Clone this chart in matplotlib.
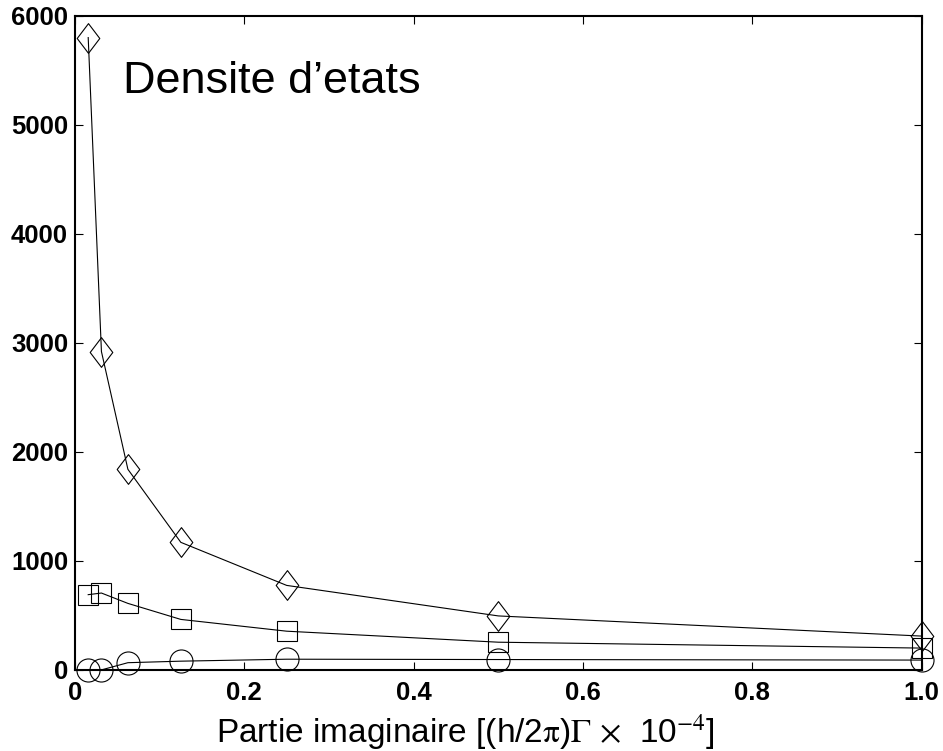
import matplotlib
matplotlib.use('Agg')
import matplotlib.pyplot as plt
from matplotlib.path import Path

plt.rcParams['font.family'] = ['Liberation Sans', 'DejaVu Sans']
plt.rcParams['mathtext.fontset'] = 'stix'

# Data
gamma = [0.015625, 0.03125, 0.0625, 0.125, 0.25, 0.5, 1.0]
dos_diamond = [5800, 2920, 1840, 1170, 775, 495, 310]
dos_square = [690, 705, 610, 463, 355, 254, 200]
dos_circle = [0, 0, 66, 80, 98, 95, 90]

x_ticks = [0, 0.2, 0.4, 0.6, 0.8, 1.0]
x_ticklabels = ['0', '0.2', '0.4', '0.6', '0.8', '1.0']
y_ticks = [0, 1000, 2000, 3000, 4000, 5000, 6000]

tall_diamond = Path([(0, 0.5), (0.38, 0), (0, -0.5), (-0.38, 0), (0, 0.5)],
                    closed=True)

fig = plt.figure(figsize=(9.43, 7.51), dpi=100)
ax = fig.add_axes([0.0795, 0.108, 0.898, 0.871])

common = dict(color='black', linewidth=0.8, markerfacecolor='none',
              markeredgecolor='black', markeredgewidth=0.8, clip_on=False,
              zorder=3)
ax.plot(gamma, dos_diamond, marker=tall_diamond, markersize=21.4, **common)
ax.plot(gamma, dos_square, marker='s', markersize=13.7, **common)
ax.plot(gamma, dos_circle, marker='o', markersize=16.6, **common)

ax.set_xlim(0, 1)
ax.set_ylim(0, 6000)
ax.set_xticks(x_ticks)
ax.set_xticklabels(x_ticklabels)
ax.set_yticks(y_ticks)
for lab in ax.get_xticklabels() + ax.get_yticklabels():
    lab.set_fontweight('bold')
    lab.set_fontsize(18.5)

ax.tick_params(direction='in', length=6, width=0.8, top=True, right=True,
               pad=5)
ax.tick_params(axis='x', pad=8)
for sp in ax.spines.values():
    sp.set_linewidth(1.5)

ax.text(0.057, 5290, 'Densite d\u2019etats', fontsize=32.4, va='baseline',
        ha='left')
ax.set_xlabel(r'Partie imaginaire [(h/2$\mathrm{\pi}$)$\Gamma$ $\times$  10$^{-4}$]',
              fontsize=24, labelpad=5)
ax.xaxis.label.set_x(0.461)

fig.savefig('out.png', dpi=100)
